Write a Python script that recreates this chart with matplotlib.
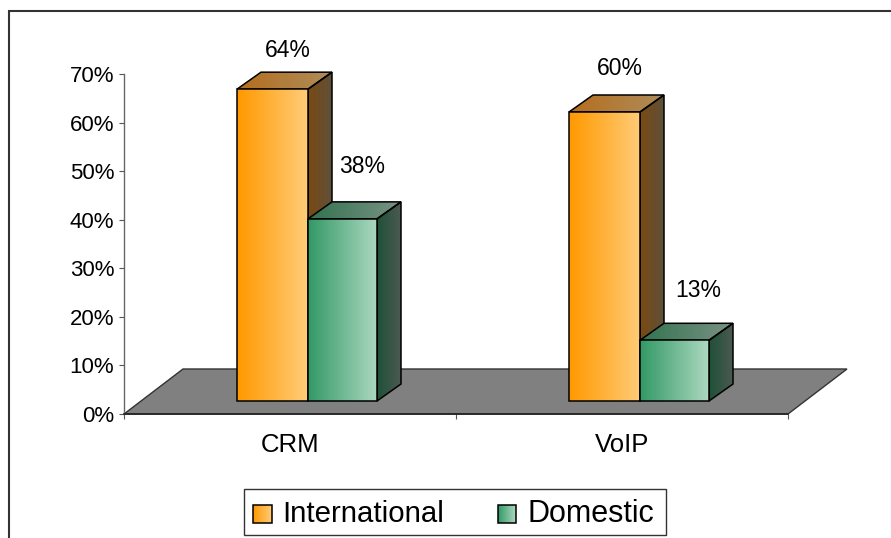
import numpy as np
import matplotlib
matplotlib.use('Agg')
import matplotlib.pyplot as plt
from matplotlib.patches import Polygon

plt.rcParams['font.family'] = ['Liberation Sans', 'DejaVu Sans']

categories = ['CRM', 'VoIP']
series_names = ['International', 'Domestic']
international = [64.2, 59.5]
domestic = [37.5, 12.5]
international_labels = ['64%', '60%']
domestic_labels = ['38%', '13%']
ytick_labels = ['0%', '10%', '20%', '30%', '40%', '50%', '60%', '70%']

W, H = 891, 538
fig = plt.figure(figsize=(W / 100, H / 100), dpi=100, facecolor='white')

# full figure overlay in pixel coords, for the outer frame and the legend
bg = fig.add_axes([0, 0, 1, 1], zorder=0)
bg.set_xlim(0, W)
bg.set_ylim(H, 0)
bg.axis('off')

# plot area 124..788 px wide, 74..414 px down
ax = fig.add_axes([124 / W, 1 - 414 / H, 664 / W, 340 / H], zorder=1)
ax.set_xlim(0, 2)
ax.set_ylim(0, 70)
ax.patch.set_alpha(0)

# sizes in pixels turned into data units
px = 2 / 664
py = 70 / 340


def gradient_poly(a, pts, c0, c1, z, edge=True):
    pts = np.array(pts)
    poly = Polygon(pts, closed=True, fill=False, edgecolor='black' if edge else 'none',
                   linewidth=1.1, zorder=z + 0.1, clip_on=False, joinstyle='miter')
    a.add_patch(poly)
    t = np.linspace(0, 1, 64)[None, :, None]
    img = np.array(c0)[None, None, :] * (1 - t) + np.array(c1)[None, None, :] * t
    im = a.imshow(img / 255, extent=(pts[:, 0].min(), pts[:, 0].max(), pts[:, 1].min(), pts[:, 1].max()),
                  aspect='auto', zorder=z, interpolation='bilinear', origin='lower')
    im.set_clip_box(fig.bbox)
    im.set_clip_path(poly)


orange = dict(front=((255, 153, 0), (255, 204, 120)),
              top=((181, 110, 30), (175, 140, 90)),
              side=((122, 74, 18), (95, 80, 58)))
green = dict(front=((51, 153, 102), (172, 216, 192)),
             top=((50, 115, 80), (122, 146, 132)),
             side=((30, 80, 55), (76, 90, 82)))


def bar3d(x0, w, h, base, colors, z):
    dx, dy = 24 * px, 17 * py
    x1 = x0 + w
    t = base + h
    gradient_poly(ax, [(x1, base), (x1 + dx, base + dy), (x1 + dx, t + dy), (x1, t)], *colors['side'], z)
    gradient_poly(ax, [(x0, t), (x0 + dx, t + dy), (x1 + dx, t + dy), (x1, t)], *colors['top'], z)
    gradient_poly(ax, [(x0, base), (x1, base), (x1, t), (x0, t)], *colors['front'], z + 0.5)


# floor
floor = Polygon([(0, 0), (2, 0), (2 + 59 * px, 45 * py), (59 * px, 45 * py)], closed=True,
                facecolor='#808080', edgecolor='#333333', linewidth=1.0, clip_on=False, zorder=1)
ax.add_patch(floor)

base = 13 * py
wo, wg = 71 * px, 69 * px
offs = [[(15, 22), (20, 36)], [(15, 27), (24, 33)]]

for i in range(len(categories)):
    center = i + 0.5
    x0 = center + 17 * px - (wo + wg) / 2
    # later bars sit behind the orange one's side, so draw orange first
    bar3d(x0, wo, international[i], base, orange, 3)
    bar3d(x0 + wo, wg, domestic[i], base, green, 4)
    ax.annotate(international_labels[i], (x0 + wo / 2, base + international[i]),
                xytext=(offs[i][0][0] * .72, offs[i][0][1] * .72 + 12), textcoords='offset points',
                ha='center', va='center', fontsize=16.5, annotation_clip=False, zorder=8)
    ax.annotate(domestic_labels[i], (x0 + wo + wg / 2, base + domestic[i]),
                xytext=(offs[i][1][0] * .72, offs[i][1][1] * .72 + 12), textcoords='offset points',
                ha='center', va='center', fontsize=16.5, annotation_clip=False, zorder=8)

ax.set_xlim(0, 2)
ax.set_ylim(0, 70)

ax.set_yticks(np.arange(0, 80, 10))
ax.set_yticklabels(ytick_labels, fontsize=16)
ax.set_xticks([0, 1, 2], minor=False)
ax.set_xticklabels([])
ax.set_xticks([0.5, 1.5], minor=True)
ax.set_xticklabels(categories, minor=True, fontsize=18.5)
ax.tick_params(axis='x', which='major', length=3.6, width=0.8, color='#555555')
ax.tick_params(axis='x', which='minor', length=0, pad=13.5)
ax.tick_params(axis='y', length=3.6, width=0.8, pad=3.5, color='#555555')
for s in ['top', 'right']:
    ax.spines[s].set_visible(False)
ax.spines['left'].set_color('#666666')
ax.spines['left'].set_linewidth(1.0)
ax.spines['left'].set_zorder(2)
ax.spines['bottom'].set_color('#222222')
ax.spines['bottom'].set_linewidth(1.2)

# outer frame, open to the right and bottom
bg.plot([9, 9, W], [H, 11, 11], color='#333333', lw=1.5, solid_joinstyle='miter', clip_on=False)

# legend
bg.add_patch(plt.Rectangle((243.5, 489), 422.5, 46, fill=False, edgecolor='#333333', lw=1.0))
gradient_poly(bg, [(253, 505), (272, 505), (272, 523), (253, 523)], *orange['front'], 3)
gradient_poly(bg, [(498, 505), (516, 505), (516, 523), (498, 523)], *green['front'], 3)
bg.text(282, 514, series_names[0], fontsize=21.2, va='center', ha='left')
bg.text(527, 514, series_names[1], fontsize=22, va='center', ha='left')
bg.set_xlim(0, W)
bg.set_ylim(H, 0)

fig.savefig('out.png', dpi=100)
